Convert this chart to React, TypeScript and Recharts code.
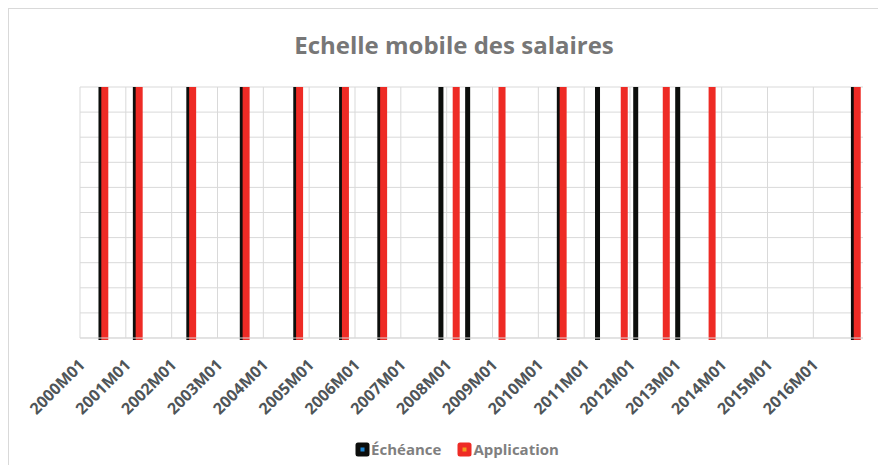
import React from 'react';
import { BarChart, Bar, XAxis, YAxis, CartesianGrid, Legend } from 'recharts';

// Monthly categories 2000M01 .. 2017M01
const FIRST_YEAR = 2000;
const LAST_CATEGORY = '2017M01';
const categories: string[] = [];
for (let y = FIRST_YEAR; y <= 2017; y++) {
  let done = false;
  for (let m = 1; m <= 12; m++) {
    const c = `${y}M${String(m).padStart(2, '0')}`;
    categories.push(c);
    if (c === LAST_CATEGORY) { done = true; break; }
  }
  if (done) break;
}

const tickLabels = [
  '2000M01', '2001M01', '2002M01', '2003M01', '2004M01', '2005M01', '2006M01', '2007M01', '2008M01',
  '2009M01', '2010M01', '2011M01', '2012M01', '2013M01', '2014M01', '2015M01', '2016M01',
];

const echeanceMonths = [
  '2000M06', '2001M03', '2002M05', '2003M07', '2004M09', '2005M09', '2006M07',
  '2007M11', '2008M06', '2010M06', '2011M04', '2012M02', '2013M01', '2016M11',
];
const echeanceValues = [1, 1, 1, 1, 1, 1, 1, 1, 1, 1, 1, 1, 1, 1];

const applicationMonths = [
  '2000M07', '2001M04', '2002M06', '2003M08', '2004M10', '2005M10', '2006M08',
  '2008M03', '2009M03', '2010M07', '2011M11', '2012M10', '2013M10', '2016M12',
];
const applicationValues = [1, 1, 1, 1, 1, 1, 1, 1, 1, 1, 1, 1, 1, 1];

const yTicks = [0, 0.1, 0.2, 0.3, 0.4, 0.5, 0.6, 0.7, 0.8, 0.9, 1];

const seriesNames = ['Échéance', 'Application'];
const seriesColors = ['#0c0e0c', '#ee2b25'];
const seriesInner = ['#1f86d2', '#f39a1f'];

const data = categories.map((c) => {
  const ie = echeanceMonths.indexOf(c);
  const ia = applicationMonths.indexOf(c);
  return {
    month: c,
    echeance: ie >= 0 ? echeanceValues[ie] : null,
    application: ia >= 0 ? applicationValues[ia] : null,
  };
});

const FONT = '"Open Sans", "DejaVu Sans", sans-serif';

const makeShape = (thick: number) => (props: any) => {
  const { x, y, width, height, fill, value } = props;
  if (value == null || !height) return <g />;
  const cx = x + width / 2;
  return <rect x={cx - thick / 2} y={y} width={thick} height={height + 2} fill={fill} />;
};

const AxisTick = (props: any) => {
  const { x, y, payload } = props;
  const ax = x + 4;
  const ay = y + 20;
  return (
    <text
      x={ax}
      y={ay}
      transform={`rotate(-45 ${ax} ${ay})`}
      textAnchor="end"
      fill="#4f5558"
      fontFamily={FONT}
      fontWeight={700}
      fontSize={16}
    >
      {payload.value}
    </text>
  );
};

const verticalGen = ({ xAxis, offset }: any) => {
  return tickLabels.map((t) => {
    if (xAxis && typeof xAxis.scale === 'function') {
      const v = xAxis.scale(t);
      if (typeof v === 'number' && !isNaN(v)) return v;
    }
    return offset.left + (categories.indexOf(t) * offset.width) / categories.length;
  });
};

const LegendContent = () => (
  <div
    style={{
      display: 'flex',
      justifyContent: 'center',
      alignItems: 'center',
      fontFamily: FONT,
      fontWeight: 700,
      fontSize: 15,
      color: '#7f7f7f',
      lineHeight: '22px',
    }}
  >
    {seriesNames.map((n, i) => (
      <div key={n} style={{ display: 'flex', alignItems: 'center', marginLeft: i === 0 ? 0 : 16 }}>
        <svg width={15} height={15} style={{ display: 'block' }}>
          <rect x={0.5} y={0.5} width={14} height={14} rx={2.5} fill={seriesColors[i]} />
          <rect x={5.5} y={5.5} width={4} height={4} fill={seriesInner[i]} />
        </svg>
        <span style={{ marginLeft: 1 }}>{n}</span>
      </div>
    ))}
  </div>
);

export default function App() {
  return (
    <div style={{ position: 'relative', width: 870, height: 457 }}>
      <div
        style={{
          position: 'absolute',
          left: 0,
          top: 0,
          width: 877,
          height: 463,
          border: '1px solid #d9d9d9',
          boxSizing: 'border-box',
          pointerEvents: 'none',
        }}
      />
      <div
        style={{
          position: 'absolute',
          left: 146,
          top: 20,
          width: 600,
          textAlign: 'center',
          fontFamily: FONT,
          fontWeight: 700,
          fontSize: 24,
          color: '#777777',
          lineHeight: '34px',
        }}
      >
        Echelle mobile des salaires
      </div>
      <BarChart
        width={870}
        height={457}
        data={data}
        margin={{ top: 79, right: 15, left: 72, bottom: 0 }}
      >
        <CartesianGrid
          stroke="#d9d9d9"
          strokeWidth={1}
          verticalCoordinatesGenerator={verticalGen}
        />
        <XAxis
          dataKey="month"
          ticks={tickLabels}
          interval={0}
          height={127}
          tickLine={false}
          axisLine={{ stroke: '#d9d9d9' }}
          tick={<AxisTick />}
        />
        <XAxis dataKey="month" xAxisId="b" hide />
        <YAxis hide domain={[0, 1]} ticks={yTicks} />
        <Legend
          layout="horizontal"
          verticalAlign="middle"
          align="center"
          wrapperStyle={{ left: 14, top: 430, width: 870 }}
          content={<LegendContent />}
        />
        <Bar
          dataKey="echeance"
          name={seriesNames[0]}
          fill={seriesColors[0]}
          isAnimationActive={false}
          shape={makeShape(5)}
        />
        <Bar
          dataKey="application"
          name={seriesNames[1]}
          xAxisId="b"
          fill={seriesColors[1]}
          isAnimationActive={false}
          shape={makeShape(7)}
        />
      </BarChart>
    </div>
  );
}
